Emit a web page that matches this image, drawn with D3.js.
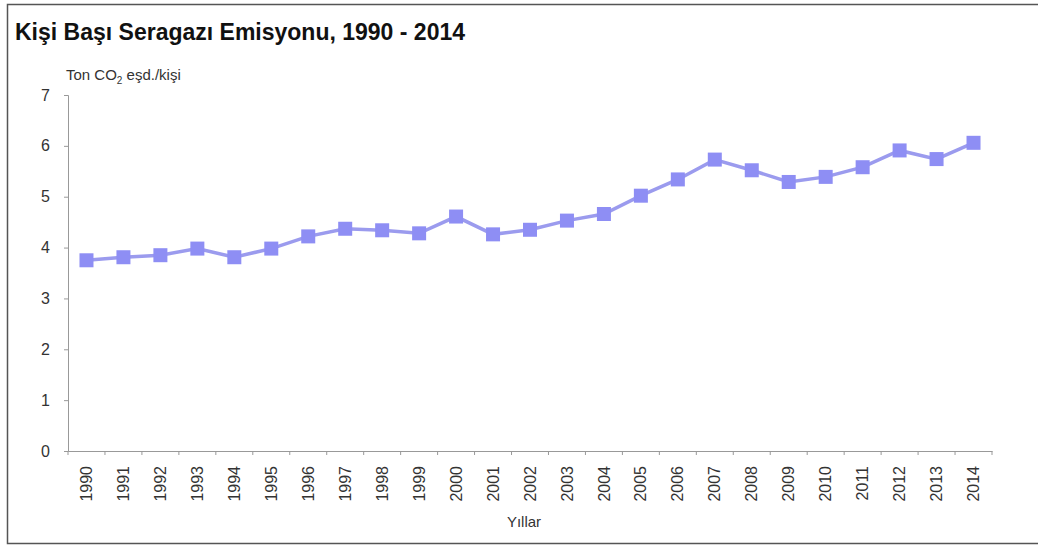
<!DOCTYPE html>
<html>
<head>
<meta charset="utf-8">
<script src="https://cdn.jsdelivr.net/npm/d3@7"></script>
<style>
  body { margin: 0; background: #fff; overflow: hidden; }
  svg { display: block; font-family: "Liberation Sans", Arial, sans-serif; }
  .axis path, .axis line { stroke: #999; }
  .axis text { fill: #333; }
</style>
</head>
<body>
<svg id="chart"></svg>
<script>
// data
const years = ['1990','1991','1992','1993','1994','1995','1996','1997','1998','1999','2000','2001','2002',
               '2003','2004','2005','2006','2007','2008','2009','2010','2011','2012','2013','2014'];
const emission = [3.75, 3.81, 3.85, 3.98, 3.81, 3.98, 4.22, 4.37, 4.34, 4.28, 4.61, 4.26, 4.35,
                  4.53, 4.66, 5.02, 5.34, 5.73, 5.52, 5.29, 5.39, 5.58, 5.91, 5.74, 6.06];
const yTicks = [0, 1, 2, 3, 4, 5, 6, 7];

const width = 1038, height = 545;
const margin = {top: 95, right: 46, bottom: 94, left: 68};
const innerWidth = width - margin.left - margin.right;
const innerHeight = height - margin.top - margin.bottom;

const svg = d3.select('#chart').attr('width', width).attr('height', height);

// outer frame (right side runs off the picture like in the scan)
svg.append('path')
  .attr('d', `M${width},4.5H7.5V543.5H${width}`)
  .attr('fill', 'none').attr('stroke', '#555').attr('stroke-width', 1.5);

svg.append('text')
  .attr('x', 15).attr('y', 40)
  .attr('font-size', '23px').attr('font-weight', 'bold').attr('fill', '#111')
  .text('Kişi Başı Seragazı Emisyonu, 1990 - 2014');

// unit label with subscript
const unit = svg.append('text')
  .attr('x', 66).attr('y', 80)
  .attr('font-size', '15px').attr('fill', '#333');
unit.append('tspan').text('Ton CO');
unit.append('tspan').attr('font-size', '10px').attr('dy', 4).text('2');
unit.append('tspan').attr('dy', -4).text(' eşd./kişi');

const g = svg.append('g').attr('transform', `translate(${margin.left},${margin.top})`);

const x = d3.scaleBand().domain(years).range([0, innerWidth]);
const y = d3.scaleLinear().domain([0, 7]).range([innerHeight, 0]);

// y axis
const yAxis = g.append('g').attr('class', 'axis')
  .call(d3.axisLeft(y).tickValues(yTicks).tickSize(4).tickPadding(14).tickFormat(d3.format('d')));
yAxis.selectAll('text').attr('font-size', '16px');

// x axis with ticks on band edges
const xAxis = g.append('g').attr('class', 'axis')
  .attr('transform', `translate(0,${innerHeight})`)
  .call(d3.axisBottom(x).tickSize(0).tickPadding(0));
xAxis.selectAll('.tick text')
  .attr('font-size', '16px')
  .attr('transform', 'rotate(-90)')
  .attr('x', -15).attr('y', 0).attr('dy', '0.35em')
  .attr('text-anchor', 'end');
xAxis.selectAll('.edge').data(years.concat(['end']))
  .enter().append('line')
  .attr('x1', (d, i) => i * x.bandwidth()).attr('x2', (d, i) => i * x.bandwidth())
  .attr('y1', 0).attr('y2', 4)
  .attr('stroke', '#999');

svg.append('text')
  .attr('x', 524).attr('y', 527)
  .attr('text-anchor', 'middle').attr('font-size', '15px').attr('fill', '#333')
  .text('Yıllar');

// line and markers
const line = d3.line()
  .x((d, i) => x(years[i]) + x.bandwidth() / 2)
  .y(d => y(d));

g.append('path')
  .datum(emission)
  .attr('d', line)
  .attr('fill', 'none')
  .attr('stroke', '#9b9bee')
  .attr('stroke-width', 3.5);

const s = 14;
g.selectAll('rect.mark').data(emission)
  .enter().append('rect')
  .attr('class', 'mark')
  .attr('x', (d, i) => x(years[i]) + x.bandwidth() / 2 - s / 2)
  .attr('y', d => y(d) - s / 2)
  .attr('width', s).attr('height', s)
  .attr('fill', '#8e8ef4');
</script>
</body>
</html>
